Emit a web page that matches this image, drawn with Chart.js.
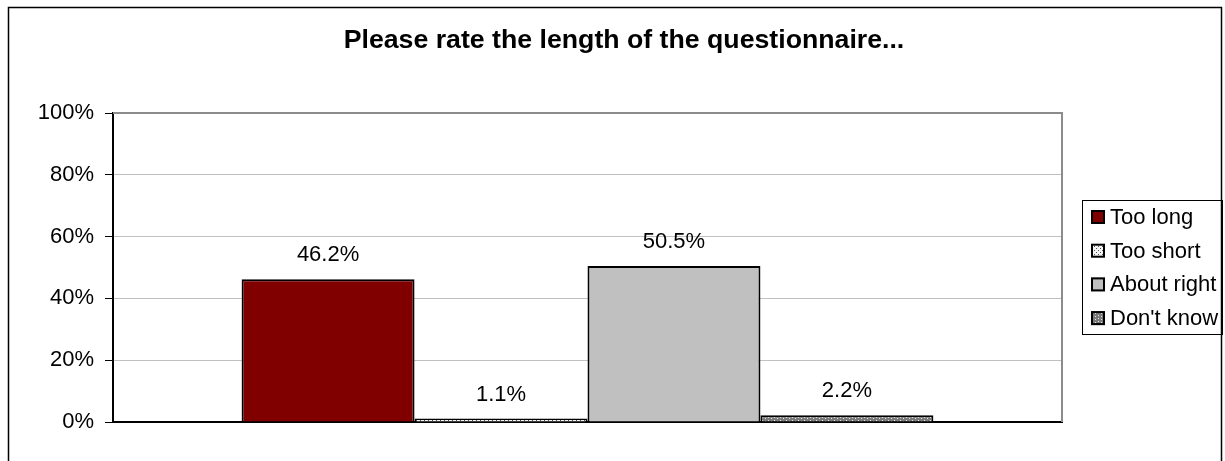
<!DOCTYPE html>
<html>
<head>
<meta charset="utf-8">
<script src="https://cdn.jsdelivr.net/npm/chart.js@4"></script>
<style>
  html, body { margin: 0; padding: 0; background: #fff; }
  #wrap { width: 1225px; height: 461px; position: relative; }
</style>
</head>
<body>
<div id="wrap"><canvas id="chart" width="1225" height="461"></canvas></div>
<script>
// Chart data
const chartTitle = 'Please rate the length of the questionnaire...';
const categories = [''];
const seriesLabels = ['Too long', 'Too short', 'About right', "Don't know"];
const seriesValues = [46.2, 1.1, 50.5, 2.2];
const yTicks = [0, 20, 40, 60, 80, 100];

const FONT = '"Liberation Sans", Arial, sans-serif';

// Fill patterns in the old Excel style
function makePattern(bg, dot, w, h) {
  const c = document.createElement('canvas');
  c.width = w; c.height = h;
  const g = c.getContext('2d');
  g.fillStyle = bg; g.fillRect(0, 0, w, h);
  g.fillStyle = dot;
  g.fillRect(0, 0, 1, 1);
  g.fillRect(Math.floor(w / 2), Math.floor(h / 2), 1, 1);
  return g.createPattern(c, 'repeat');
}
const ctx = document.getElementById('chart').getContext('2d');
const fills = [
  '#800000',
  makePattern('#f4f4f4', '#555555', 4, 4),
  '#c0c0c0',
  makePattern('#7a7a7a', '#e8e8e8', 6, 3)
];

const datasets = seriesLabels.map((label, i) => ({
  label: label,
  data: [seriesValues[i]],
  backgroundColor: fills[i],
  borderColor: '#000',
  borderWidth: 2,
  categoryPercentage: 0.729,
  barPercentage: 1
}));

// Title, frame, value labels and legend
const decorations = {
  id: 'decorations',
  beforeDraw(chart) {
    const c = chart.ctx;
    c.save();
    c.fillStyle = '#fff';
    c.fillRect(0, 0, chart.width, chart.height);
    c.strokeStyle = '#000';
    c.lineWidth = 1.5;
    c.strokeRect(8.5, 7.5, 1213, 460);
    c.restore();
  },
  afterDatasetsDraw(chart) {
    const c = chart.ctx;
    const area = chart.chartArea;
    c.save();
    // plot area border (top/right)
    c.strokeStyle = '#8c8c8c';
    c.lineWidth = 2;
    c.beginPath();
    c.moveTo(area.left, area.top);
    c.lineTo(area.right, area.top);
    c.lineTo(area.right, area.bottom);
    c.stroke();
    // title
    c.fillStyle = '#000';
    c.font = 'bold 26.7px ' + FONT;
    c.textAlign = 'center';
    c.textBaseline = 'middle';
    c.fillText(chartTitle, 624, 41);
    // value labels
    c.font = '22px ' + FONT;
    chart.data.datasets.forEach((ds, i) => {
      const bar = chart.getDatasetMeta(i).data[0];
      c.fillText(ds.data[0].toFixed(1) + '%', bar.x, bar.y - 24);
    });
    // legend
    const lx = 1082, ly = 200, lw = 140, lh = 134;
    c.strokeStyle = '#000';
    c.lineWidth = 1;
    c.strokeRect(lx + 0.5, ly + 0.5, lw, lh);
    c.textAlign = 'left';
    chart.data.datasets.forEach((ds, i) => {
      const y = ly + 17 + i * 33.7;
      c.fillStyle = ds.backgroundColor;
      c.fillRect(lx + 9, y - 7, 14, 14);
      c.strokeStyle = '#000';
      c.lineWidth = 2;
      c.strokeRect(lx + 10, y - 6, 12, 12);
      c.fillStyle = '#000';
      c.fillText(ds.label, lx + 28, y + 1);
    });
    c.restore();
  }
};

new Chart(ctx, {
  type: 'bar',
  data: { labels: categories, datasets: datasets },
  options: {
    responsive: false,
    animation: false,
    layout: { padding: { left: 8, right: 163, top: 113, bottom: 39 } },
    plugins: {
      legend: { display: false },
      title: { display: false },
      tooltip: { enabled: false }
    },
    scales: {
      x: {
        ticks: { display: false },
        grid: { display: false, drawTicks: false },
        border: { color: '#000', width: 2 },
        afterFit: s => { s.height = 0; }
      },
      y: {
        min: 0,
        max: 100,
        afterBuildTicks: s => { s.ticks = yTicks.map(v => ({ value: v })); },
        ticks: {
          color: '#000',
          font: { family: FONT, size: 22 },
          padding: 11,
          callback: v => v + '%'
        },
        grid: { color: '#c0c0c0', tickColor: '#000', tickLength: 8 },
        border: { color: '#000', width: 2 },
        afterFit: s => { s.width = 105; }
      }
    }
  },
  plugins: [decorations]
});
</script>
</body>
</html>
